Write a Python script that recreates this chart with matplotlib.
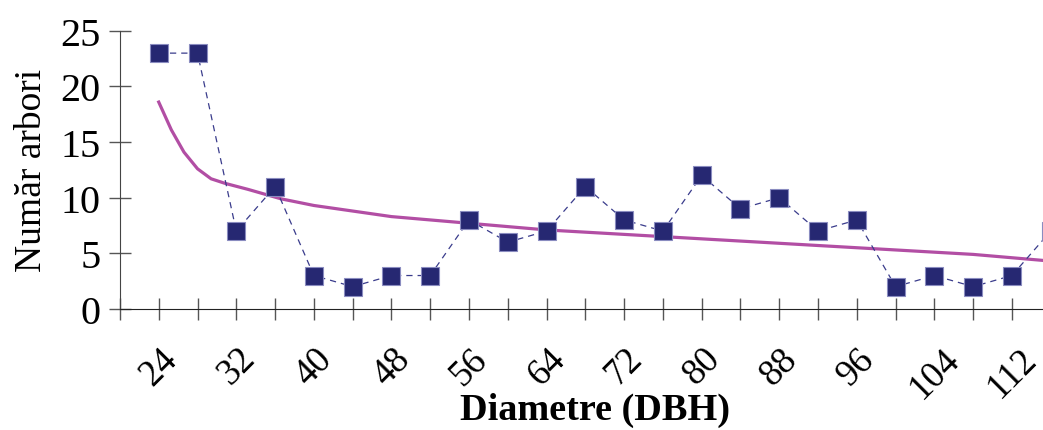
import numpy as np
import matplotlib.pyplot as plt

plt.rcParams['font.family'] = ['Liberation Serif', 'DejaVu Serif']

# diameter classes (cm) and tree counts
diam = [24, 28, 32, 36, 40, 44, 48, 52, 56, 60, 64, 68, 72, 76, 80, 84,
        88, 92, 96, 100, 104, 108, 112, 116]
trees = [23, 23, 7, 11, 3, 2, 3, 3, 8, 6, 7, 11, 8, 7, 12, 9,
         10, 7, 8, 2, 3, 2, 3, 7]
# fitted trend curve
trend_x = [24, 25.3, 26.6, 28.0, 29.4, 30.8, 33.2, 36.6, 40, 44, 48, 52, 56, 60,
           64, 68, 72, 76, 80, 84, 88, 92, 96, 100, 104, 108, 112, 116, 118]
trend = [18.6, 16.1, 14.1, 12.6, 11.7, 11.3, 10.75, 9.9, 9.3, 8.8, 8.3, 8.0,
         7.7, 7.4, 7.1, 6.9, 6.7, 6.5, 6.3, 6.1, 5.9, 5.7, 5.5, 5.3, 5.1, 4.9,
         4.6, 4.3, 4.2]
label_ticks = [24, 32, 40, 48, 56, 64, 72, 80, 88, 96, 104, 112]

fig = plt.figure(figsize=(10.43, 4.31), dpi=100)
ax = fig.add_axes([0.115, 0.281, 0.911, 0.645])

ax.plot(diam, trees, linestyle=(0, (5, 4)), color='#3a3c8c', linewidth=0.9,
        marker='s', markersize=13, markerfacecolor='#262872',
        markeredgecolor='#8a8cc0', markeredgewidth=0.8, zorder=3, clip_on=False)
ax.plot(trend_x, trend, color='#b24ea4', linewidth=2.3, zorder=2,
        solid_joinstyle='round')

ax.set_xlim(20, 118)
ax.set_ylim(0, 25)

ticks = np.arange(20, 120, 4)
ax.set_xticks(ticks)
ax.set_xticklabels([str(v) if v in label_ticks else '' for v in ticks],
                   rotation=45, fontsize=26.5)
ax.set_yticks([0, 5, 10, 15, 20, 25])
ax.tick_params(axis='y', labelsize=29, direction='inout', length=16, width=1,
               pad=6, color='#555555')
ax.tick_params(axis='x', direction='inout', length=16, width=1, pad=15,
               color='#555555')

ax.spines['top'].set_visible(False)
ax.spines['right'].set_visible(False)
ax.spines['left'].set_color('#444444')
ax.spines['bottom'].set_color('#222222')

ax.set_ylabel('Număr arbori', fontsize=27, labelpad=8)
ax.set_xlabel('Diametre (DBH)', fontsize=27.5, fontweight='bold', labelpad=-9)

fig.savefig('out.png', dpi=100)
